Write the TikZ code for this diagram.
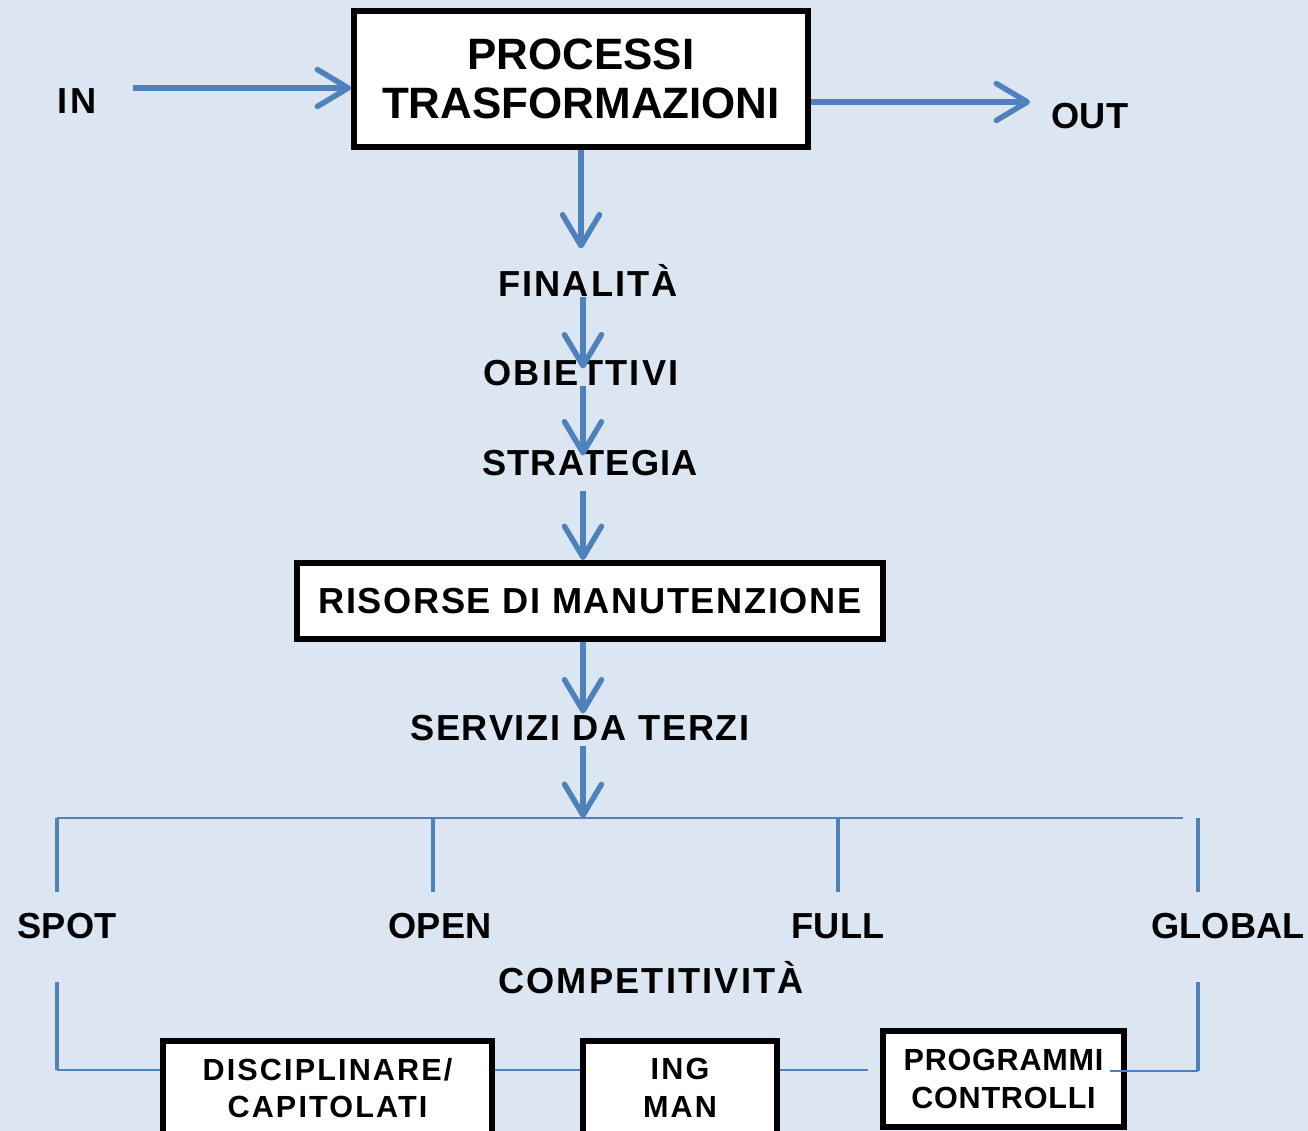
\documentclass[tikz,border=0pt]{standalone}
\usepackage{fontspec}
\setmainfont{Liberation Sans}
\usetikzlibrary{arrows.meta}
\definecolor{flowblue}{HTML}{4F81BD}
\definecolor{paper}{HTML}{DCE6F2}

\begin{document}
\begin{tikzpicture}[x=0.02cm, y=-0.02cm,
    box/.style={rectangle, draw=black, fill=white, line width=0.12cm, inner sep=0pt, align=center, font=\fontsize{25}{28}\selectfont\bfseries},
    smallbox/.style={box, line width=0.11cm, font=\fontsize{17.4}{21.5}\selectfont\bfseries},
    lbl/.style={inner sep=0pt, text height=15pt, text depth=0pt, font=\fontsize{20.6}{24}\selectfont\bfseries\addfontfeature{LetterSpace=#1}},
    lbl/.default=0,
    flow/.style={draw=flowblue, line width=0.11cm, -{Straight Barb[length=0.62cm, width=0.74cm, round]}},
    branch/.style={draw=flowblue, line width=0.04cm},
    stub/.style={draw=flowblue, line width=0.08cm}]
    % Background
    \useasboundingbox (0,0) rectangle (1308,1131);
    \fill[paper] (0,0) rectangle (1308,1131);
    % Place nodes
    \node [box, minimum width=9.08cm, minimum height=2.72cm] (proc) at (581,79) {PROCESSI\\TRASFORMAZIONI};
    \node [lbl=10] (in) at (77,100) {IN};
    \node [lbl] (out) at (1090,115) {OUT};
    \node [lbl=5.5] (fin) at (588,283) {FINALITÀ};
    \node [lbl=6.5] (obi) at (581,372) {OBIETTIVI};
    \node [lbl=3] (str) at (590,462) {STRATEGIA};
    \node [box, font=\fontsize{20.6}{24}\selectfont\bfseries\addfontfeature{LetterSpace=4.5}, minimum width=11.72cm, minimum height=1.52cm] (ris) at (590,601) {RISORSE DI MANUTENZIONE};
    \node [lbl=4.8] (srv) at (580,727) {SERVIZI DA TERZI};
    \node [lbl] (spot) at (67,925) {SPOT};
    \node [lbl] (open) at (440,925) {OPEN};
    \node [lbl] (full) at (838,925) {FULL};
    \node [lbl] (global) at (1228,925) {GLOBAL};
    \node [lbl=6] (comp) at (651,980) {COMPETITIVITÀ};
    \node [smallbox, font=\fontsize{17.4}{21.5}\selectfont\bfseries\addfontfeature{LetterSpace=7}, minimum width=6.58cm, minimum height=1.88cm] (dis) at (327.5,1088) {DISCIPLINARE/\\CAPITOLATI};
    \node [smallbox, font=\fontsize{17.4}{21.5}\selectfont\bfseries\addfontfeature{LetterSpace=7}, minimum width=3.88cm, minimum height=1.88cm] (ing) at (680,1088) {ING\\MAN};
    \node [smallbox, font=\fontsize{17.4}{21.5}\selectfont\bfseries\addfontfeature{LetterSpace=2.5}, minimum width=4.82cm, minimum height=1.92cm] (prg) at (1003.5,1079) {PROGRAMMI\\CONTROLLI};
    \coordinate (inlet) at (133,88);
    \coordinate (outlet) at (1030,102);
    \coordinate (hub) at (583,818);
    \coordinate (t1) at (57,818);
    \coordinate (t2) at (433,818);
    \coordinate (t3) at (838,818);
    \coordinate (t4) at (1198,818);
    \coordinate (tend) at (1183,818);
    \coordinate (b1) at (57,982);
    \coordinate (c1) at (57,1070);
    \coordinate (b4) at (1198,982);
    \coordinate (c4) at (1198,1071);
    % Arrows
    \path[flow] (inlet) -- (inlet -| proc.west);
    \path[flow] (outlet -| proc.east) -- (outlet);
    \path[flow, shorten >=0.42cm] (proc.south) -- (proc.south |- fin.north);
    \path[flow, shorten >=-0.2cm] (fin.south -| hub) -- (hub |- obi.north);
    \path[flow, shorten >=-0.14cm] (obi.south -| hub) -- (hub |- str.north);
    \path[flow, shorten <=0.3cm] (str.south -| hub) -- (hub |- ris.north);
    \path[flow] (ris.south -| hub) -- (hub |- srv.north);
    \path[flow, shorten <=0.1cm] (srv.south -| hub) -- (hub);
    % Branches
    \path[branch] (t1) -- (tend);
    \foreach \t/\l in {t1/spot, t2/open, t3/full, t4/global}
        \path[stub, shorten >=0.38cm] (\t) -- (\t |- \l.north);
    \path[stub] (b1) -- (c1);
    \path[branch] (c1) -- (c1 -| dis.west);
    \path[branch] (dis.east |- c1) -- (c1 -| ing.west);
    \path[branch, shorten >=0.24cm] (ing.east |- c1) -- (c1 -| prg.west);
    \path[stub] (b4) -- (c4);
    \path[branch, shorten >=-0.34cm] (c4) -- (c4 -| prg.east);
\end{tikzpicture}
\end{document}
